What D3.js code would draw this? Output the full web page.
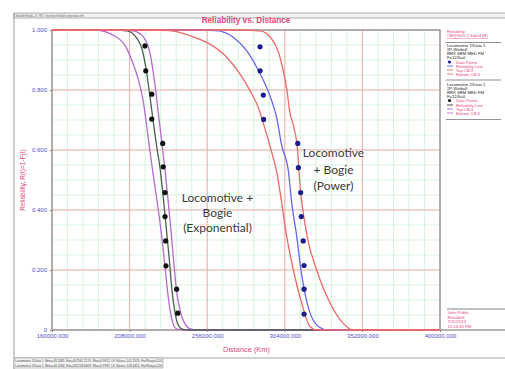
<!DOCTYPE html>
<html>
<head>
<meta charset="utf-8">
<script src="https://cdn.jsdelivr.net/npm/d3@7"></script>
<style>
  body { margin: 0; background: #fff; }
  svg { display: block; font-family: "Liberation Sans", Arial, sans-serif; }
</style>
</head>
<body>
<div id="chart"></div>
<script>
// tick values
const xTicks = [160000, 208000, 256000, 304000, 352000, 400000];
const yTicks = [0, 0.2, 0.4, 0.6, 0.8, 1.0];

// Locomotive + Bogie (Exponential) - black dots, black line, purple bounds
const expDotDist = [217500, 218000, 221700, 221700, 228500, 228800, 229900, 229900, 230300, 230500, 237100, 237800];
const expDotRel = [0.947, 0.864, 0.786, 0.703, 0.622, 0.544, 0.458, 0.378, 0.297, 0.214, 0.136, 0.056];
const expLine = [[160000, 1], [199000, 1], [206400, 0.997], [212400, 0.973], [216000, 0.93], [218500, 0.86],
  [220600, 0.777], [222500, 0.70], [224600, 0.617], [227000, 0.533], [229000, 0.433], [230800, 0.333],
  [232600, 0.233], [234200, 0.133], [235800, 0.067], [237600, 0.023], [240400, 0.003], [245400, 0], [400000, 0]];
const expTop = [[160000, 1], [203300, 1], [210300, 0.997], [216500, 0.977], [220600, 0.923], [223700, 0.817],
  [225900, 0.717], [228000, 0.623], [229900, 0.533], [231800, 0.433], [233600, 0.333], [235200, 0.233],
  [237000, 0.133], [239200, 0.067], [242000, 0.023], [246000, 0.003], [251500, 0], [400000, 0]];
const expBottom = [[160000, 1], [186600, 1], [197700, 0.983], [205800, 0.943], [209500, 0.897], [213800, 0.827],
  [216600, 0.757], [218500, 0.683], [220300, 0.607], [222200, 0.533], [224900, 0.433], [227400, 0.333],
  [229500, 0.233], [231400, 0.133], [233000, 0.067], [234800, 0.023], [237300, 0.003], [242300, 0], [400000, 0]];

// Locomotive + Bogie (Power) - blue dots, blue line, red bounds
const powDotDist = [288700, 288700, 290700, 290900, 312000, 312400, 313800, 314200, 315400, 315900, 315900, 315900];
const powDotRel = [0.944, 0.864, 0.783, 0.702, 0.622, 0.541, 0.458, 0.378, 0.297, 0.215, 0.136, 0.053];
const powLine = [[160000, 1], [251500, 1], [261900, 0.998], [272100, 0.976], [280400, 0.931], [286600, 0.876],
  [291800, 0.82], [295900, 0.764], [299000, 0.707], [302000, 0.617], [306200, 0.53], [308300, 0.423],
  [311400, 0.311], [314000, 0.2], [319000, 0.067], [325200, 0.01], [330700, 0], [400000, 0]];
const powTop = [[160000, 1], [276300, 1], [288700, 0.997], [296700, 0.964], [301000, 0.91], [303500, 0.853],
  [305400, 0.797], [306900, 0.733], [309700, 0.673], [311900, 0.60], [312800, 0.527], [314000, 0.45],
  [315800, 0.377], [318400, 0.297], [323700, 0.2], [332000, 0.09], [340000, 0.023], [346200, 0], [400000, 0]];
const powBottom = [[160000, 1], [220600, 1], [233000, 0.998], [245400, 0.981], [257700, 0.953], [268100, 0.909],
  [276300, 0.853], [282500, 0.798], [287600, 0.742], [291100, 0.683], [295500, 0.60], [299000, 0.527],
  [302100, 0.423], [305200, 0.311], [309300, 0.2], [314500, 0.089], [319600, 0.011], [323900, 0], [400000, 0]];

const legendLines = [
  { y: 31, text: 'Reliability', color: '#e8467c' },
  { y: 35.5, text: 'CB@90% 2-Sided [R]', color: '#e8467c', under: true },
  { y: 45.5, text: 'Locomotive 1\\Data 1', color: '#222' },
  { y: 49.5, text: '2P-Weibull', color: '#222' },
  { y: 53.5, text: 'RRX SRM MED FM', color: '#222' },
  { y: 57.5, text: 'F=12/S=0', color: '#222' },
  { y: 62, text: 'Data Points', color: '#e8467c', sym: 'dot', symColor: '#1c1c8c' },
  { y: 66, text: 'Reliability Line', color: '#e8467c', sym: 'line', symColor: '#5c5cf0' },
  { y: 70, text: 'Top CB-II', color: '#e8467c', sym: 'line', symColor: '#f06868' },
  { y: 74, text: 'Bottom CB-II', color: '#e8467c', sym: 'line', symColor: '#f06868' },
  { y: 84, text: 'Locomotive 2\\Data 1', color: '#222' },
  { y: 88, text: '2P-Weibull', color: '#222' },
  { y: 92, text: 'RRX SRM MED FM', color: '#222' },
  { y: 96, text: 'F=12/S=0', color: '#222' },
  { y: 100.5, text: 'Data Points', color: '#e8467c', sym: 'dot', symColor: '#111' },
  { y: 105, text: 'Reliability Line', color: '#e8467c', sym: 'line', symColor: '#333' },
  { y: 109, text: 'Top CB-II', color: '#e8467c', sym: 'line', symColor: '#b56ad0' },
  { y: 113, text: 'Bottom CB-II', color: '#e8467c', sym: 'line', symColor: '#b56ad0' }
];
const legendRules = [42.5, 80, 119.5];
const footerLines = ['John Public', 'ReliaSoft', '7/22/2013', '12:16:45 PM'];
const statusRows = [
  'Locomotive 1\\Data 1: Beta=43.1805, Eta=307561.2174, Rho=0.9612, LK Value=-141.2370, Fail\\Susp=12/0',
  'Locomotive 2\\Data 1: Beta=44.0264, Eta=231218.6409, Rho=0.9787, LK Value=-128.4415, Fail\\Susp=12/0'
];

const W = 505, H = 369;
const plot = { left: 52, right: 440, top: 30, bottom: 330 };
const pink = '#e8467c';
const tickBlue = '#5050c8';

const svg = d3.select('#chart').append('svg')
  .attr('width', W)
  .attr('height', H);

const x = d3.scaleLinear().domain([160000, 400000]).range([plot.left, plot.right]);
const y = d3.scaleLinear().domain([0, 1]).range([plot.bottom, plot.top]);

// outer window frame
svg.append('rect')
  .attr('x', 14).attr('y', 13).attr('width', W - 13).attr('height', 5)
  .attr('fill', '#f2f2f2').attr('stroke', '#9a9a9a').attr('stroke-width', 0.8);
svg.append('text')
  .attr('x', 15.5).attr('y', 17)
  .attr('textLength', 68).attr('lengthAdjust', 'spacingAndGlyphs')
  .style('font-size', '3.6px').style('fill', '#555')
  .text('ReliaSoft Weibull++ 8 - PRO - http://www.ReliaSoft.com/products.htm');
svg.append('line')
  .attr('x1', 14).attr('x2', 14).attr('y1', 13).attr('y2', H)
  .attr('stroke', '#9a9a9a').attr('stroke-width', 1);

// grid
const xMinor = d3.range(160000, 400001, 9600);
const yMinor = d3.range(0, 1.0001, 0.05);
const grid = svg.append('g');
grid.selectAll('.xm').data(xMinor).enter().append('line')
  .attr('x1', d => x(d)).attr('x2', d => x(d))
  .attr('y1', plot.top).attr('y2', plot.bottom)
  .attr('stroke', '#cdf1d6').attr('stroke-width', 0.8);
grid.selectAll('.ym').data(yMinor).enter().append('line')
  .attr('x1', plot.left).attr('x2', plot.right)
  .attr('y1', d => y(d)).attr('y2', d => y(d))
  .attr('stroke', '#cdf1d6').attr('stroke-width', 0.8);
grid.selectAll('.xM').data(xTicks).enter().append('line')
  .attr('x1', d => x(d)).attr('x2', d => x(d))
  .attr('y1', plot.top).attr('y2', plot.bottom)
  .attr('stroke', '#f5a8a8').attr('stroke-width', 0.9);
grid.selectAll('.yM').data(yTicks).enter().append('line')
  .attr('x1', plot.left).attr('x2', plot.right)
  .attr('y1', d => y(d)).attr('y2', d => y(d))
  .attr('stroke', '#f5a8a8').attr('stroke-width', 0.9);

// plot frame (curves are drawn over it)
svg.append('rect')
  .attr('x', plot.left).attr('y', plot.top)
  .attr('width', plot.right - plot.left).attr('height', plot.bottom - plot.top)
  .attr('fill', 'none').attr('stroke', '#9a9a9a').attr('stroke-width', 1.4);
svg.append('line')
  .attr('x1', plot.right).attr('x2', W).attr('y1', plot.bottom).attr('y2', plot.bottom)
  .attr('stroke', '#9a9a9a').attr('stroke-width', 1.4);

// curves
const line = d3.line()
  .x(d => x(d[0]))
  .y(d => y(d[1]))
  .curve(d3.curveMonotoneX);

const curves = [
  { data: expBottom, color: '#b56ad0' },
  { data: expTop, color: '#b56ad0' },
  { data: expLine, color: '#4c5e50' },
  { data: powLine, color: '#6464f0' },
  { data: powTop, color: '#f06868' },
  { data: powBottom, color: '#f06868' }
];
curves.forEach(c => {
  svg.append('path')
    .datum(c.data)
    .attr('fill', 'none')
    .attr('stroke', c.color)
    .attr('stroke-width', 1.3)
    .attr('d', line);
});

// data points
svg.append('g').selectAll('circle')
  .data(expDotDist.map((d, i) => [d, expDotRel[i]]))
  .enter().append('circle')
  .attr('cx', d => x(d[0])).attr('cy', d => y(d[1]))
  .attr('r', 2.6).attr('fill', '#111');
svg.append('g').selectAll('circle')
  .data(powDotDist.map((d, i) => [d, powDotRel[i]]))
  .enter().append('circle')
  .attr('cx', d => x(d[0])).attr('cy', d => y(d[1]))
  .attr('r', 2.6).attr('fill', '#1c1c8c');

// axes
const xAxis = svg.append('g')
  .attr('transform', `translate(0,${plot.bottom})`)
  .call(d3.axisBottom(x).tickValues(xTicks).tickSize(2).tickFormat(d3.format('.3f')));
const yAxis = svg.append('g')
  .attr('transform', `translate(${plot.left},0)`)
  .call(d3.axisLeft(y).tickValues(yTicks).tickSize(2).tickFormat(d => d === 0 ? '0' : d3.format('.3f')(d)));
[xAxis, yAxis].forEach(a => {
  a.select('.domain').remove();
  a.selectAll('line').attr('stroke', '#888');
  a.selectAll('text')
    .style('fill', tickBlue)
    .style('font-size', '6px')
    .style('font-family', '"Liberation Sans", Arial, sans-serif');
});
xAxis.selectAll('text').attr('dy', '0.5em');

// titles
svg.append('text')
  .attr('x', 246).attr('y', 22.5)
  .attr('text-anchor', 'middle')
  .style('font-size', '8.2px').style('font-weight', 'bold').style('fill', pink)
  .text('Reliability vs. Distance');
svg.append('text')
  .attr('x', 246.5).attr('y', 351.5)
  .attr('text-anchor', 'middle')
  .style('font-size', '7.4px').style('fill', pink)
  .text('Distance (Km)');
svg.append('text')
  .attr('transform', 'translate(24.5,180) rotate(-90)')
  .attr('text-anchor', 'middle')
  .style('font-size', '6.5px').style('fill', pink)
  .text('Reliability, R(t)=1-F(t)');

// annotations
const note = svg.append('g')
  .style('font-family', 'Lato, "Open Sans", sans-serif')
  .style('font-size', '12px')
  .style('fill', '#3a3a3a')
  .attr('text-anchor', 'middle');
[['Locomotive +', 201.5], ['Bogie', 216.5], ['(Exponential)', 231.5]].forEach(([t, ty]) => {
  note.append('text').attr('x', 217.5).attr('y', ty).text(t);
});
[['Locomotive', 157], ['+ Bogie', 173.5], ['(Power)', 189.5]].forEach(([t, ty]) => {
  note.append('text').attr('x', 333.5).attr('y', ty).text(t);
});

// legend
const legend = svg.append('g').style('font-size', '4.2px');
legendRules.forEach(ry => {
  legend.append('line')
    .attr('x1', 446).attr('x2', 501).attr('y1', ry).attr('y2', ry)
    .attr('stroke', '#777').attr('stroke-width', 0.8);
});
legendLines.forEach(l => {
  const tx = l.sym ? 456 : 447;
  legend.append('text')
    .attr('x', tx).attr('y', l.y + 1.5)
    .style('fill', l.color)
    .style('text-decoration', l.under ? 'underline' : null)
    .text(l.text);
  if (l.sym === 'dot') {
    legend.append('circle')
      .attr('cx', 449.5).attr('cy', l.y).attr('r', 1.6).attr('fill', l.symColor);
  } else if (l.sym === 'line') {
    legend.append('line')
      .attr('x1', 447).attr('x2', 453).attr('y1', l.y).attr('y2', l.y)
      .attr('stroke', l.symColor).attr('stroke-width', 0.9);
  }
});

// footer box
svg.append('line')
  .attr('x1', 447).attr('x2', W).attr('y1', 309).attr('y2', 309)
  .attr('stroke', '#777').attr('stroke-width', 0.9);
footerLines.forEach((t, i) => {
  svg.append('text')
    .attr('x', 447.5).attr('y', 314 + i * 4.6)
    .style('font-size', '4.2px').style('fill', pink)
    .text(t);
});

// status bar
svg.append('line')
  .attr('x1', 14).attr('x2', W).attr('y1', 358).attr('y2', 358)
  .attr('stroke', '#9a9a9a').attr('stroke-width', 0.9);
svg.append('rect')
  .attr('x', 14).attr('y', 358).attr('width', 149).attr('height', 10)
  .attr('fill', '#f4f4f4').attr('stroke', '#9a9a9a').attr('stroke-width', 0.6);
statusRows.forEach((t, i) => {
  svg.append('text')
    .attr('x', 15).attr('y', 362 + i * 4.8)
    .attr('textLength', 147).attr('lengthAdjust', 'spacingAndGlyphs')
    .style('font-size', '3.8px').style('fill', '#444')
    .text(t);
});
</script>
</body>
</html>
